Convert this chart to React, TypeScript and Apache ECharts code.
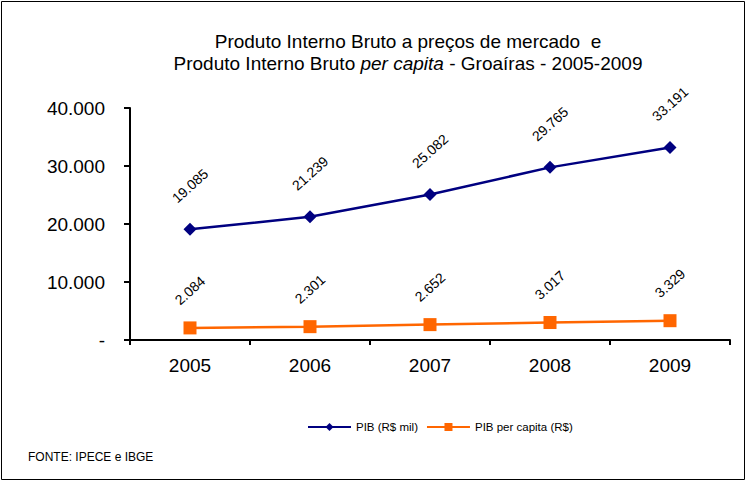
import React, { useEffect, useRef } from "react";
import * as echarts from "echarts";

const years = ["2005", "2006", "2007", "2008", "2009"];
const pibMil = [19085, 21239, 25082, 29765, 33191];
const pibPerCapita = [2084, 2301, 2652, 3017, 3329];
const yTicks = [0, 10000, 20000, 30000, 40000];

const fmt = (v: number) =>
  v === 0 ? "-" : Math.round(v).toString().replace(/\B(?=(\d{3})+(?!\d))/g, ".");

export default function App() {
  const ref = useRef<HTMLDivElement>(null);
  useEffect(() => {
    if (!ref.current) return;
    const chart = echarts.init(ref.current, undefined, { renderer: "svg" });
    const font = "Liberation Sans, Arial, sans-serif";
    chart.setOption({
      animation: false,
      textStyle: { fontFamily: font },
      title: {
        text: "Produto Interno Bruto a preços de mercado  e\n{n|Produto Interno Bruto }{i|per capita}{n| - Groaíras - 2005-2009}",
        left: 403,
        top: 25,
        textAlign: "center",
        textStyle: {
          fontFamily: font,
          fontSize: 19,
          fontWeight: "normal",
          color: "#000",
          lineHeight: 22,
          rich: {
            n: { fontFamily: font, fontSize: 19, color: "#000", lineHeight: 22 },
            i: { fontFamily: font, fontSize: 19, color: "#000", fontStyle: "italic", lineHeight: 22 },
          },
        },
      },
      legend: {
        left: 302,
        top: 416,
        itemWidth: 43,
        itemHeight: 10,
        itemGap: 8,
        textStyle: { fontFamily: font, fontSize: 11.5, color: "#000" },
        data: ["PIB (R$ mil)", "PIB per capita (R$)"],
      },
      grid: { left: 130, right: 17, top: 108, bottom: 142, containLabel: false },
      xAxis: {
        type: "category",
        data: years,
        boundaryGap: true,
        axisLine: { lineStyle: { color: "#000", width: 2 } },
        axisTick: { show: true, length: 5, lineStyle: { color: "#000", width: 2 } },
        axisLabel: { fontFamily: font, fontSize: 19, color: "#000", margin: 16 },
      },
      yAxis: {
        type: "value",
        min: yTicks[0],
        max: yTicks[yTicks.length - 1],
        interval: 10000,
        axisLine: { show: true, lineStyle: { color: "#000", width: 2 } },
        axisTick: { show: true, length: 6, lineStyle: { color: "#000", width: 2 } },
        splitLine: { show: false },
        axisLabel: {
          fontFamily: font,
          fontSize: 19,
          color: "#000",
          margin: 25,
          formatter: (v: number) => fmt(v),
        },
      },
      series: [
        {
          name: "PIB (R$ mil)",
          type: "line",
          data: pibMil,
          color: "#000080",
          lineStyle: { color: "#000080", width: 2.5 },
          itemStyle: { color: "#000080" },
          symbol: "diamond",
          symbolSize: 13,
          label: {
            show: true,
            position: "top",
            distance: 37,
            rotate: 42,
            align: "center",
            verticalAlign: "middle",
            fontFamily: font,
            fontSize: 14,
            color: "#000",
            formatter: (p: any) => fmt(p.value),
          },
        },
        {
          name: "PIB per capita (R$)",
          type: "line",
          data: pibPerCapita,
          color: "#FF6600",
          lineStyle: { color: "#FF6600", width: 2.5 },
          itemStyle: { color: "#FF6600" },
          symbol: "rect",
          symbolSize: 13,
          label: {
            show: true,
            position: "top",
            distance: 31,
            rotate: 42,
            align: "center",
            verticalAlign: "middle",
            fontFamily: font,
            fontSize: 14,
            color: "#000",
            formatter: (p: any) => fmt(p.value),
          },
        },
      ],
      graphic: [
        {
          type: "rect",
          shape: { x: 1.5, y: 1.5, width: 743, height: 478 },
          style: { fill: "none", stroke: "#000", lineWidth: 1 },
          silent: true,
        },
        {
          type: "text",
          left: 28,
          top: 451,
          style: { text: "FONTE: IPECE e IBGE", fontFamily: font, fontSize: 12, fill: "#000" },
        },
      ],
    });
    return () => chart.dispose();
  }, []);
  return (
    <div
      ref={ref}
      style={{ position: "fixed", left: 0, top: 0, width: 747, height: 482, background: "#fff" }}
    />
  );
}
